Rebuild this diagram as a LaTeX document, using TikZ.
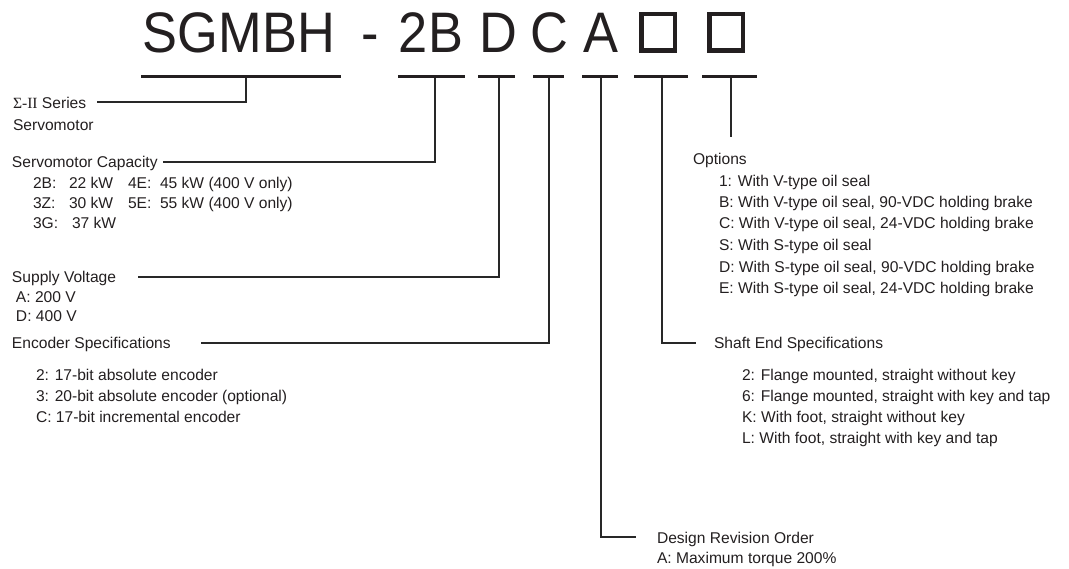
\documentclass[tikz,border=0pt]{standalone}
\usepackage{fontspec}
\setmainfont{Liberation Sans}
\newfontfamily\serifgr{Liberation Serif}
\definecolor{txt}{RGB}{35,31,32}
\definecolor{ln}{RGB}{40,40,40}
\newcommand{\tallttl}[1]{\scalebox{1}[1.09]{#1}}
\tikzset{
  lbl/.style={anchor=base west, inner sep=0pt, outer sep=0pt, font=\fontsize{15.6}{18}\selectfont, text=txt},
  ttl/.style={anchor=base, inner sep=0pt, outer sep=0pt, font=\fontsize{52.4}{60}\selectfont, text=txt},
  bar/.style={line width=3pt, draw=txt},
  conn/.style={line width=1.1pt, draw=ln, line join=miter},
  sq/.style={line width=4.5pt, draw=txt},
}
\begin{document}
\begin{tikzpicture}[x=1pt,y=-1pt]
\useasboundingbox (0,0) rectangle (1069,569);
% title
\node[ttl] (tS) at (239,53) {\tallttl{SGMBH}};
\node[ttl] (tdash) at (370,53) {\tallttl{-}};
\node[ttl] (t2B) at (431,53) {\tallttl{2B}};
\node[ttl] (tD) at (498.5,53) {\tallttl{D}};
\node[ttl] (tC) at (549,53) {\tallttl{C}};
\node[ttl] (tA) at (601,53) {\tallttl{A}};
\draw[sq] (641.25,14.25) rectangle (674.75,50.75);
\draw[sq] (709.25,14.25) rectangle (742.75,50.75);
% bars
\draw[bar] (141,77) -- (341,77);
\draw[bar] (398,77) -- (465,77);
\draw[bar] (478,77) -- (515,77);
\draw[bar] (533,77) -- (564,77);
\draw[bar] (582,77) -- (618,77);
\draw[bar] (634,77) -- (688,77);
\draw[bar] (702,77) -- (757,77);
% tick tops
\coordinate (b1) at (246,78);
\coordinate (b2) at (435,78);
\coordinate (b3) at (499,78);
\coordinate (b4) at (549,78);
\coordinate (b5) at (601,78);
\coordinate (b6) at (662,78);
\coordinate (b7) at (731,78);
% free ends
\coordinate (e1) at (97,102);
\coordinate (e2) at (163,162);
\coordinate (e3) at (138,277);
\coordinate (e4) at (201,343);
\coordinate (e5) at (636,537);
\coordinate (e6) at (696,343);
\coordinate (e7) at (731,137);
\draw[conn] (b1) |- (e1);
\draw[conn] (b2) |- (e2);
\draw[conn] (b3) |- (e3);
\draw[conn] (b4) |- (e4);
\draw[conn] (b5) |- (e5);
\draw[conn] (b6) |- (e6);
\draw[conn] (b7) -- (e7);
% left labels
\node[lbl] (ser) at (13,108.6) {{\serifgr Σ-II} Series};
\node[lbl] (ser2) at (13,130.6) {Servomotor};
\node[lbl] (cap) at (12,167.6) {Servomotor Capacity};
\node[lbl] (c1a) at (33,188.6) {2B:};
\node[lbl] (c1b) at (69,188.6) {22 kW};
\node[lbl] (c1c) at (128,188.6) {4E:};
\node[lbl] (c1d) at (160,188.6) {45 kW (400 V only)};
\node[lbl] (c2a) at (33,208.6) {3Z:};
\node[lbl] (c2b) at (69,208.6) {30 kW};
\node[lbl] (c2c) at (128,208.6) {5E:};
\node[lbl] (c2d) at (160,208.6) {55 kW (400 V only)};
\node[lbl] (c3a) at (33,228.6) {3G:};
\node[lbl] (c3b) at (72,228.6) {37 kW};
\node[lbl] (sv) at (12,282.6) {Supply Voltage};
\node[lbl] (sv1) at (16,302.6) {A: 200 V};
\node[lbl] (sv2) at (16,321.6) {D: 400 V};
\node[lbl] (enc) at (12,348.6) {Encoder Specifications};
\node[lbl] (enc1) at (36,380.6) {2: 17-bit absolute encoder};
\node[lbl] (enc2) at (36,401.6) {3: 20-bit absolute encoder (optional)};
\node[lbl] (enc3) at (36,422.6) {C: 17-bit incremental encoder};
% right labels
\node[lbl] (opt) at (693,164.6) {Options};
\node[lbl] (o1) at (719,186.6) {1: With V-type oil seal};
\node[lbl] (o2) at (719,207.6) {B: With V-type oil seal, 90-VDC holding brake};
\node[lbl] (o3) at (719,228.6) {C: With V-type oil seal, 24-VDC holding brake};
\node[lbl] (o4) at (719,250.6) {S: With S-type oil seal};
\node[lbl] (o5) at (719,272.6) {D: With S-type oil seal, 90-VDC holding brake};
\node[lbl] (o6) at (719,293.6) {E: With S-type oil seal, 24-VDC holding brake};
\node[lbl] (sh) at (714,348.6) {Shaft End Specifications};
\node[lbl] (sh1) at (742,380.6) {2: Flange mounted, straight without key};
\node[lbl] (sh2) at (742,401.6) {6: Flange mounted, straight with key and tap};
\node[lbl] (sh3) at (742,422.6) {K: With foot, straight without key};
\node[lbl] (sh4) at (742,443.6) {L: With foot, straight with key and tap};
\node[lbl] (dr) at (657,543.6) {Design Revision Order};
\node[lbl] (dr1) at (657,563.6) {A: Maximum torque 200\%};
\end{tikzpicture}
\end{document}
